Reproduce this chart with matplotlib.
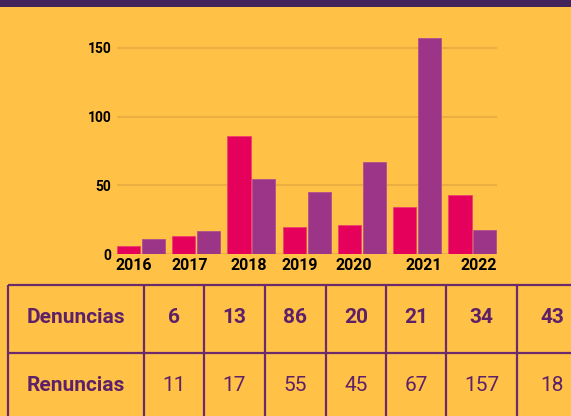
# Denuncias vs Renuncias, 2016-2022, bars + table below
import numpy as np
import matplotlib.pyplot as plt

# Data
years = ["2016", "2017", "2018", "2019", "2020", "2021", "2022"]
denuncias = [6, 13, 86, 20, 21, 34, 43]
renuncias = [11, 17, 55, 45, 67, 157, 18]
row_labels = ["Denuncias", "Renuncias"]

# Colours
bg = "#FFC146"
pink = "#E5005B"
purple = "#9C3588"
band = "#42245A"
grid_col = "#EBAE42"
table_col = "#6A2A6C"
text_col = "#5E2168"

W, H = 571, 416
plt.rcParams["font.family"] = ["Roboto", "DejaVu Sans"]

fig = plt.figure(figsize=(W / 100, H / 100), dpi=100)
fig.patch.set_facecolor(bg)

# Overlay axes in pixel coordinates for band + table
ov = fig.add_axes([0, 0, 1, 1])
ov.set_xlim(0, W)
ov.set_ylim(H, 0)
ov.axis("off")
ov.add_patch(plt.Rectangle((0, 0), W, 6.7, color=band, lw=0))

# Bar chart
ax = fig.add_axes([116.7 / W, 1 - 254.3 / H, 380 / W, 220.4 / H])
ax.set_facecolor("none")
x = np.arange(len(years))
w = 0.42
ax.bar(x - 0.225, denuncias, w, color=pink, edgecolor="#EE4070", linewidth=0.6, zorder=3)
ax.bar(x + 0.225, renuncias, w, color=purple, edgecolor="#B0508F", linewidth=0.6, zorder=3)
ax.set_xlim(-0.44, 6.44)
ax.set_ylim(0, 160)
ax.set_yticks([0, 50, 100, 150])
ax.yaxis.grid(True, color=grid_col, linewidth=1.5, zorder=0)
ax.axhline(0, color="#E6A841", linewidth=1.5, zorder=1)
for s in ax.spines.values():
    s.set_visible(False)
ax.tick_params(length=0)
ax.tick_params(axis="y", pad=4, labelsize=10)
label_shift = [-0.13, -0.11, -0.05, -0.13, -0.14, 0.12, 0.12]
ax.set_xticks(x + np.array(label_shift))
ax.set_xticklabels(years, fontsize=11.5, fontweight="bold")
ax.tick_params(axis="x", pad=3)
for lab in ax.get_yticklabels():
    lab.set_fontweight("bold")

# Table
col_edges = [8.3, 144, 204, 265, 326, 386, 446, 517, 588]
row_edges = [285, 352.7, 420]
for xe in col_edges:
    ov.plot([xe, xe], [row_edges[0], row_edges[-1]], color=table_col, lw=1.6, solid_capstyle="butt")
for ye in row_edges:
    ov.plot([col_edges[0], col_edges[-1]], [ye, ye], color=table_col, lw=1.6, solid_capstyle="butt")

rows = [denuncias, renuncias]
for r, (name, vals) in enumerate(zip(row_labels, rows)):
    yc = (row_edges[r] + row_edges[r + 1]) / 2 - 1
    ov.text((col_edges[0] + col_edges[1]) / 2, yc, name, ha="center", va="center",
            fontsize=15, fontweight="bold", color=text_col)
    for c, v in enumerate(vals):
        xc = (col_edges[c + 1] + col_edges[c + 2]) / 2
        ov.text(xc, yc, str(v), ha="center", va="center", fontsize=15,
                fontweight="bold" if r == 0 else "normal", color=text_col)

fig.savefig("out.png", dpi=100, facecolor=bg)
